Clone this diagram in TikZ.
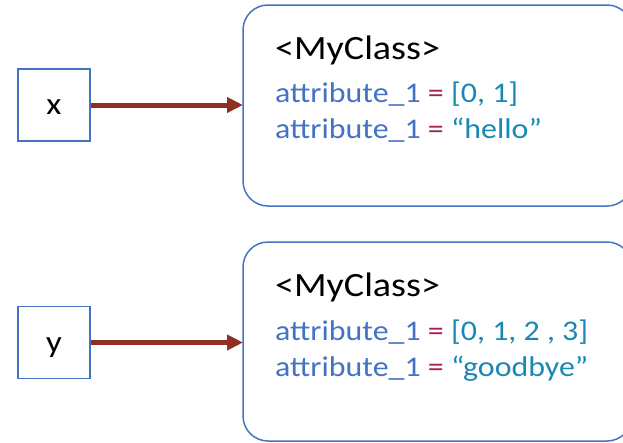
\documentclass[tikz,border=0pt]{standalone}
\usepackage{fontspec}
\setmainfont[FakeStretch=1.12]{Carlito}
\usetikzlibrary{arrows.meta}
\definecolor{obl}{HTML}{4472C4}
\definecolor{attr}{HTML}{4472C4}
\definecolor{eqc}{HTML}{A81C5A}
\definecolor{valc}{HTML}{1A88B4}
\definecolor{arr}{HTML}{8E3023}
\tikzset{
  varbox/.style={draw=obl, line width=1.5pt, minimum width=72pt, minimum height=72pt, inner sep=0pt},
  varname/.style={anchor=base, inner sep=0pt, font=\fontsize{31}{33}\selectfont},
  objbox/.style={draw=obl, line width=1.5pt, rounded corners=25pt},
  title/.style={anchor=base west, inner sep=0pt, font=\fontsize{34}{36}\selectfont},
  attrline/.style={anchor=base west, inner sep=0pt, font=\fontsize{28.5}{30}\selectfont, text=attr},
  ref/.style={draw=arr, line width=5pt, -{Triangle[length=16pt,width=15pt]}}
}
\begin{document}
\begin{tikzpicture}[x=1pt,y=-1pt]
\useasboundingbox (0,0) rectangle (623,442);
\fill[white] (0,0) rectangle (623,442);
% boxes
\draw[objbox] (243,5) rectangle (632,206);
\coordinate (o1) at (243,105);
\draw[objbox] (243,242) rectangle (632,441);
\coordinate (o2) at (243,342.5);
\node[varbox] (x) at (54,105) {};
\node[varname] (xl) at (54,114.5) {x};
\node[varbox] (y) at (54,342.5) {};
\node[varname] (yl) at (54,352.5) {y};
\draw[ref] (x.east) -- (o1);
\draw[ref] (y.east) -- (o2);
% texts
\node[title] (t1) at (275,59) {<MyClass>};
\node[attrline] (a1) at (275,102.5) {attribute\_1 \textcolor{eqc}{=} \textcolor{valc}{[0, 1]}};
\node[attrline] (b1) at (275,138) {attribute\_1 \textcolor{eqc}{=} \textcolor{valc}{“hello”}};
\node[title] (t2) at (275,296) {<MyClass>};
\node[attrline] (a2) at (275,340) {attribute\_1 \textcolor{eqc}{=} \textcolor{valc}{[0, 1, 2 , 3]}};
\node[attrline] (b2) at (275,376) {attribute\_1 \textcolor{eqc}{=} \textcolor{valc}{“goodbye”}};
\end{tikzpicture}
\end{document}
